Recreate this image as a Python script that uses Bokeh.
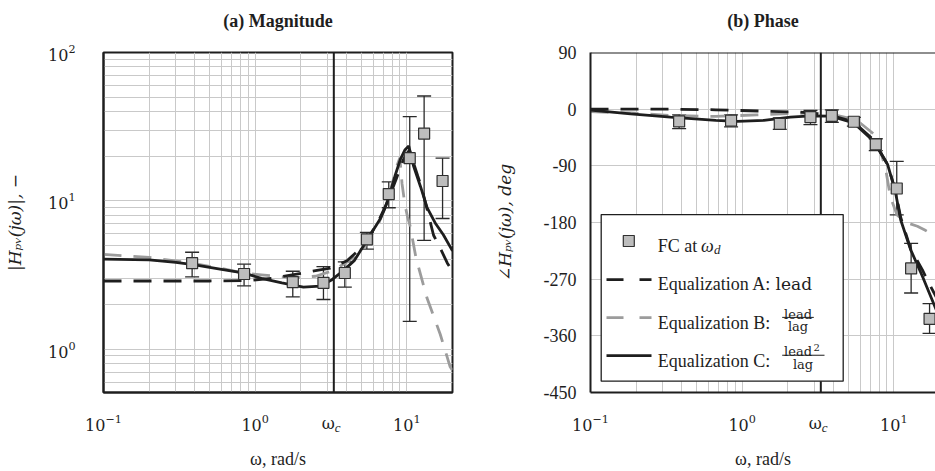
import math
from bokeh.plotting import figure
from bokeh.models import (ColumnDataSource, Whisker, TeeHead, Span, BoxAnnotation,
                          Label, FixedTicker, Range1d)
from bokeh.layouts import row
from bokeh.embed import file_html
from bokeh.resources import INLINE

# ---------------- data ----------------
omega_c = 3.3

x_major_ticks = [0.1, 1, 10]
mag_major_ticks = [1, 10, 100]
phase_ticks = [-450, -360, -270, -180, -90, 0, 90]

fc_w = [0.384, 0.845, 1.77, 2.82, 3.9, 5.45, 7.6, 10.45, 13.0, 17.2]
fc_mag = [3.8, 3.21, 2.83, 2.8, 3.26, 5.5, 11.1, 19.4, 28.4, 13.6]
fc_mag_hi = [4.5, 3.74, 3.35, 3.6, 3.88, 6.12, 13.4, 36.9, 50.9, 19.4]
fc_mag_lo = [3.07, 2.67, 2.25, 2.16, 2.62, 4.73, 8.98, 1.54, 5.41, 7.6]

fc_ph = [-19.4, -18.3, -23.5, -12.6, -10.5, -20, -56, -126, -253, -333]
fc_ph_hi = [-9, -9, -14, -2, -1, -13, -47, -83, -213, -309]
fc_ph_lo = [-31, -28, -32, -24.6, -21, -27, -66, -168, -292, -356]

mag_A_w = [0.1, 0.5, 0.89, 1.3, 1.88, 2.5, 3.13, 4.03, 5.2, 6.5, 7.5, 8.5, 9.5,
           10.4, 11.8, 12.6, 15.0, 16.6, 18.5, 20.0]
mag_A = [2.88, 2.88, 2.9, 3.0, 3.21, 3.38, 3.52, 3.94, 5.0, 7.3, 10.0, 14.0, 19.0,
         22.0, 14.7, 12.0, 5.86, 4.8, 3.8, 3.35]

mag_B_w = [0.1, 0.2, 0.38, 0.6, 0.85, 1.1, 1.5, 2.0, 2.5, 3.3, 4.0, 4.5, 5.2, 6.5,
           7.5, 8.0, 8.6, 9.0, 9.3, 9.7, 10.1, 10.5, 11.5, 13.6, 16.6, 19.3, 20.0]
mag_B = [4.36, 4.15, 3.8, 3.5, 3.25, 3.17, 3.07, 3.05, 3.1, 3.4, 3.85, 4.2, 4.8, 7.0,
         10.0, 13.0, 17.2, 19.5, 13.0, 9.5, 7.8, 6.8, 4.1, 2.2, 1.26, 0.76, 0.72]

mag_C_w = [0.1, 0.2, 0.3, 0.4, 0.6, 0.85, 1.1, 1.5, 2.08, 2.68, 3.21, 3.8, 4.5, 5.2,
           5.8, 6.7, 7.2, 7.8, 8.4, 9.06, 9.7, 10.3, 11.1, 12.3, 13.6, 15.5, 17.4, 20.0]
mag_C = [4.04, 4.0, 3.85, 3.7, 3.45, 3.25, 3.0, 2.8, 2.62, 2.66, 2.94, 3.37, 3.95, 5.0,
         6.0, 7.6, 9.0, 11.5, 15.0, 19.0, 22.0, 23.4, 17.0, 12.5, 9.0, 7.0, 5.9, 4.6]

ph_A_w = [0.1, 0.34, 0.67, 1.33, 2.54, 3.3, 4.0, 5.4, 7.3, 9.1, 10.2, 11.1, 12.9,
          15.4, 16.9, 20.0]
ph_A = [0, 0, -1, -3, -5, -8, -11, -20, -48, -88, -128, -172, -222, -255, -275, -308]

ph_B_w = [0.1, 0.184, 0.337, 0.67, 1.25, 2.08, 2.8, 3.84, 5.0, 6.0, 7.6, 8.8, 9.5,
          10.5, 12.0, 14.3, 16.0, 18.0, 20.0]
ph_B = [-4, -6, -10, -11.6, -9, -7, -6, -8, -14, -22, -42, -93, -140, -168, -180,
        -186, -192, -199, -204]

ph_C_w = [0.1, 0.184, 0.337, 0.67, 0.93, 1.39, 2.08, 2.83, 3.84, 5.44, 7.3, 9.1,
          10.2, 11.1, 12.9, 15.4, 18.9, 20.0]
ph_C = [-1.5, -7.5, -12.6, -17.8, -19.4, -17.8, -12.6, -10.5, -11, -22, -50, -88,
        -129, -176, -223, -265, -317, -330]

# ---------------- style / layout ----------------
SERIF = "Liberation Serif"
CM = "DejaVu Serif"
DARK = "#1e1e1e"
GRAY = "#9c9c9c"
GRID = "#c9c9c9"
FILL = "#bdbdbd"
DASH = "18 12"
LW = 2.8

H = 471
TOP, BOTTOM = 52, 75
FH = H - TOP - BOTTOM
L_LEFT, L_FW, L_RIGHT = 103, 349, 26
L_W = L_LEFT + L_FW + L_RIGHT
R_LEFT, R_FW = 112, 345
R_W = 935 - L_W
R_X0 = L_W + R_LEFT

X_MIN, X_MAX_L = 0.1, 20.0
DEC = L_FW / (math.log10(X_MAX_L) - math.log10(X_MIN))
X_MAX_R = 10 ** (math.log10(X_MIN) + R_FW / DEC)
MAG_MIN, MAG_MAX = 0.51, 100.0
PH_MIN, PH_MAX = -450, 90

minor_decades = [k * 10.0 ** e for e in (-1, 0, 1) for k in range(2, 10)]
# position of the "ω" part of the ω_c tick label (shifted a few px left of ω_c)
OMEGA_LABEL_AT = 10 ** (math.log10(omega_c) - 5.5 / DEC)


def ph_at(py):
    return PH_MAX - (py - TOP) * (PH_MAX - PH_MIN) / FH


def rx_at(px):
    return 10 ** (math.log10(X_MIN) + (px - R_X0) / DEC)


def make_fig(width, left, right, xmax, y_type, y_range, title):
    p = figure(width=width, height=H, x_axis_type="log", y_axis_type=y_type,
               x_range=Range1d(X_MIN, xmax), y_range=y_range,
               min_border_left=left, min_border_right=right,
               min_border_top=TOP, min_border_bottom=BOTTOM,
               output_backend="svg", toolbar_location=None,
               background_fill_color="white", border_fill_color="white")
    p.title.text = title + "\n\u00a0"
    p.title.align = "center"
    p.title.text_font = SERIF
    p.title.text_font_size = "18px"
    p.title.text_font_style = "bold"
    p.title.text_color = DARK
    p.title.standoff = 4
    xt = FixedTicker(ticks=x_major_ticks + [OMEGA_LABEL_AT], minor_ticks=[])
    p.xaxis.ticker = xt
    p.xaxis.major_label_overrides = {OMEGA_LABEL_AT: "ω"}
    p.xgrid.ticker = FixedTicker(ticks=x_major_ticks, minor_ticks=minor_decades)
    p.xgrid.grid_line_color = GRID
    p.xgrid.minor_grid_line_color = GRID
    p.ygrid.grid_line_color = GRID
    for ax in (p.xaxis, p.yaxis):
        ax.major_tick_line_color = None
        ax.minor_tick_line_color = None
        ax.axis_line_color = DARK
        ax.axis_line_width = 2
        ax.major_label_text_color = DARK
        ax.axis_label_text_color = DARK
        ax.axis_label_text_font_size = "18px"
        ax.axis_label_text_font = SERIF
        ax.axis_label_text_font_style = "normal"
    p.xaxis.major_label_text_font = CM
    p.xaxis.major_label_text_font_size = "16px"
    p.xaxis.major_label_standoff = 15
    p.xaxis.axis_label = "ω, rad/s"
    p.xaxis.axis_label_standoff = 13
    return p


def add_common(p, xs_list, fc_y, fc_lo, fc_hi, c_panel):
    (wA, yA), (wB, yB), (wC, yC) = xs_list
    p.line(wB, yB, line_color=GRAY, line_width=LW, line_dash=DASH)
    p.line(wA, yA, line_color=DARK, line_width=LW, line_dash=DASH)
    p.line(wC, yC, line_color=DARK, line_width=LW)
    src = ColumnDataSource(dict(w=fc_w, lo=fc_lo, hi=fc_hi))
    p.add_layout(Whisker(base="w", lower="lo", upper="hi", source=src,
                         dimension="height", line_color="#2a2a2a", line_width=1.3,
                         upper_head=TeeHead(size=14, line_color="#2a2a2a", line_width=1.3),
                         lower_head=TeeHead(size=14, line_color="#2a2a2a", line_width=1.3)))
    p.scatter(fc_w, fc_y, marker="square", size=11, fill_color=FILL,
              line_color="#303030", line_width=1.2, level="overlay")
    p.add_layout(Span(location=omega_c, dimension="height", line_color=DARK, line_width=2))
    # subscript "c" of the ω_c tick label (kept in a side panel with spare room so
    # that it is not clipped by the frame and does not change the frame size)
    p.add_layout(Label(x=omega_c, y=-35.0, y_units="screen", x_offset=1.0, text="c",
                       text_align="left", text_baseline="alphabetic",
                       text_font=SERIF, text_font_style="italic",
                       text_font_size="13px", text_color=DARK), c_panel)


# ---------------- (a) Magnitude ----------------
p1 = make_fig(L_W, L_LEFT, L_RIGHT, X_MAX_L, "log", Range1d(MAG_MIN, MAG_MAX),
              "(a) Magnitude")
yt1 = FixedTicker(ticks=mag_major_ticks, minor_ticks=minor_decades)
p1.yaxis.ticker = yt1
p1.ygrid.ticker = yt1
p1.ygrid.minor_grid_line_color = GRID
p1.yaxis.major_label_text_font = CM
p1.yaxis.major_label_text_font_size = "16px"
p1.yaxis.major_label_standoff = 22
p1.yaxis.axis_label = "|Hₚᵥ(jω)|, −"
p1.yaxis.axis_label_text_font = CM
p1.yaxis.axis_label_text_font_style = "italic"
p1.yaxis.axis_label_text_font_size = "17px"
p1.yaxis.axis_label_standoff = 20
p1.outline_line_color = DARK
p1.outline_line_width = 2
add_common(p1, [(mag_A_w, mag_A), (mag_B_w, mag_B), (mag_C_w, mag_C)],
           fc_mag, fc_mag_lo, fc_mag_hi, "right")

# ---------------- (b) Phase ----------------
p2 = make_fig(R_W, R_LEFT, 0, X_MAX_R, "linear", Range1d(PH_MIN, PH_MAX), "(b) Phase")
yt2 = FixedTicker(ticks=phase_ticks)
p2.yaxis.ticker = yt2
p2.ygrid.ticker = yt2
p2.yaxis.major_label_overrides = {t: str(t) for t in phase_ticks}
p2.yaxis.major_label_text_font = SERIF
p2.yaxis.major_label_text_font_size = "18px"
p2.yaxis.major_label_standoff = 8
p2.yaxis.axis_label = "∠Hₚᵥ(jω), deg"
p2.yaxis.axis_label_text_font = CM
p2.yaxis.axis_label_text_font_style = "italic"
p2.yaxis.axis_label_text_font_size = "17px"
p2.yaxis.axis_label_standoff = 26
p2.outline_line_color = None
p2.add_layout(Span(location=PH_MAX, dimension="width", line_color=DARK, line_width=2))
add_common(p2, [(ph_A_w, ph_A), (ph_B_w, ph_B), (ph_C_w, ph_C)],
           fc_ph, fc_ph_lo, fc_ph_hi, "left")

# legend (drawn by hand, inside the phase panel)
p2.add_layout(BoxAnnotation(left=rx_at(600.7), right=rx_at(842.7),
                            top=ph_at(216), bottom=ph_at(384.5),
                            fill_color="white", fill_alpha=1.0,
                            line_color=DARK, line_width=1.3, line_alpha=1.0))


def lab(p, px, py, text, size="18px", font=SERIF, style="normal", align="left"):
    p.add_layout(Label(x=rx_at(px), y=ph_at(py), text=text, text_align=align,
                       text_baseline="alphabetic", text_font=font,
                       text_font_style=style, text_font_size=size, text_color=DARK))


p2.scatter([rx_at(628.3)], [ph_at(242.7)], marker="square", size=11, fill_color=FILL,
           line_color="#303030", line_width=1.2, level="overlay")
lab(p2, 657.3, 247.7, "FC at")
lab(p2, 700.5, 247.7, "ω", style="italic")
lab(p2, 713.5, 251.0, "d", size="13px", style="italic")

p2.line([rx_at(606), rx_at(651)], [ph_at(281.7)] * 2, line_color=DARK, line_width=LW,
        line_dash="17 16", level="overlay")
lab(p2, 657.3, 286.7, "Equalization A:")
lab(p2, 775.0, 286.7, "lead", size="17px", font=CM)

p2.line([rx_at(606), rx_at(651)], [ph_at(320.3)] * 2, line_color=GRAY, line_width=LW,
        line_dash="17 16", level="overlay")
lab(p2, 657.3, 325.3, "Equalization B:")
lab(p2, 797.5, 316.7, "lead", size="13px", font=CM, align="center")
p2.line([rx_at(781.7), rx_at(813.3)], [ph_at(320.0)] * 2, line_color=DARK,
        line_width=1, level="overlay")
lab(p2, 797.5, 329.5, "lag", size="13px", font=CM, align="center")

p2.line([rx_at(606), rx_at(651)], [ph_at(358.7)] * 2, line_color=DARK, line_width=LW,
        level="overlay")
lab(p2, 657.3, 363.7, "Equalization C:")
lab(p2, 797.5, 354.3, "lead", size="13px", font=CM, align="center")
lab(p2, 813.0, 350.5, "2", size="10px", font=CM)
p2.line([rx_at(781.7), rx_at(824.0)], [ph_at(358.3)] * 2, line_color=DARK,
        line_width=1, level="overlay")
lab(p2, 802.5, 367.7, "lag", size="13px", font=CM, align="center")

layout = row(p1, p2)
open("out.html", "w").write(file_html(layout, INLINE))
